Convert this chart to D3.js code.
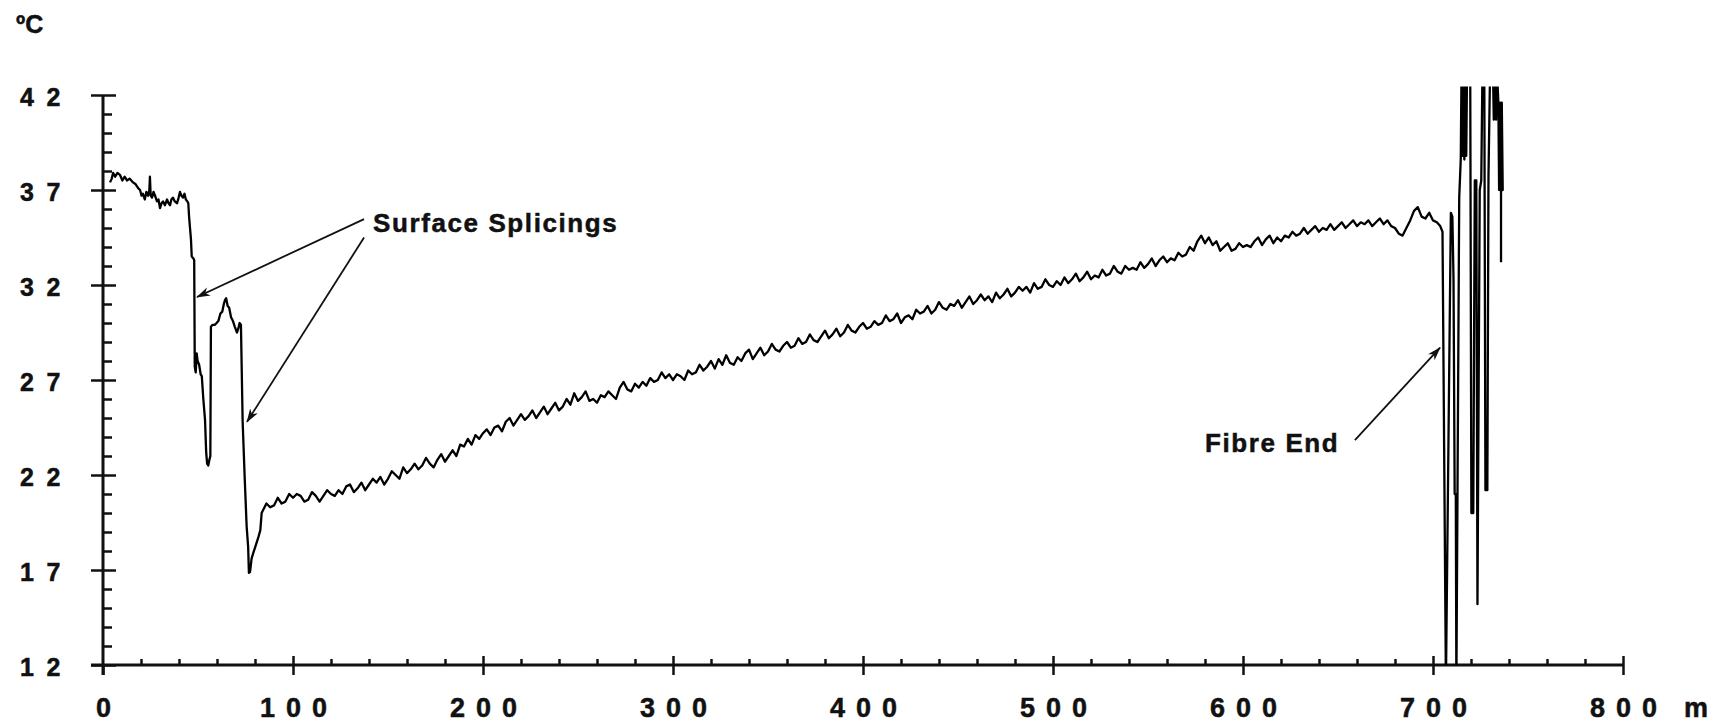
<!DOCTYPE html>
<html>
<head>
<meta charset="utf-8">
<script src="https://cdn.jsdelivr.net/npm/d3@7"></script>
<style>
body { margin: 0; background: #fff; }
text { font-family: "Liberation Sans", Arial, sans-serif; font-weight: bold; fill: #111; stroke: #111; stroke-width: 0.5px; }
</style>
</head>
<body>
<div id="chart"></div>
<script>
const yTicks = [12, 17, 22, 27, 32, 37, 42];
const xTicks = [0, 100, 200, 300, 400, 500, 600, 700, 800];

// first ~84 m: surface section and the two splices, [distance m, temperature ºC]
const spliceTrace = [
	[3.7, 37.4], [4.6, 37.6], [5.3, 37.9], [6.4, 37.7], [7.6, 37.9], [8.9, 37.8], [10.2, 37.5], [11.4, 37.7],
	[12.6, 37.5], [14.0, 37.6], [15.8, 37.4], [17.2, 37.3], [18.5, 37.1], [19.5, 37.0], [20.3, 36.7], [21.0, 36.8],
	[22.0, 36.5], [22.8, 36.9], [23.7, 36.7], [24.4, 37.0], [24.7, 37.7], [25.1, 36.7], [25.8, 36.6], [26.6, 36.9],
	[27.4, 36.7], [28.4, 36.4], [29.2, 36.5], [30.0, 36.05], [30.8, 36.3], [31.6, 36.4], [32.6, 36.2], [33.7, 36.5],
	[34.5, 36.3], [35.3, 36.2], [36.0, 36.5], [36.8, 36.6], [37.8, 36.4], [39.0, 36.3], [39.8, 36.6], [40.5, 36.9],
	[41.3, 36.7], [42.1, 36.6], [42.9, 36.8], [43.6, 36.5], [44.4, 36.4], [44.9, 36.3], [45.3, 35.6], [45.8, 35.0],
	[46.3, 34.4], [46.7, 33.5], [47.6, 33.4], [48.0, 33.3], [48.3, 27.7], [48.8, 27.4], [49.3, 28.4], [49.8, 28.0],
	[50.6, 27.8], [51.4, 27.3], [52.0, 27.2], [52.8, 26.0], [53.7, 24.9], [54.3, 23.2], [54.8, 22.6], [55.4, 22.5],
	[56.0, 22.8], [56.5, 23.0], [56.8, 29.8], [57.6, 29.9], [58.8, 29.9], [59.8, 30.0], [60.7, 30.1], [61.8, 30.5],
	[62.8, 30.6], [63.6, 31.0], [64.2, 31.2], [64.8, 31.3], [65.6, 30.9], [66.4, 30.8], [67.4, 30.3], [68.4, 30.1],
	[69.4, 29.8], [70.5, 29.5], [71.2, 29.7], [71.9, 30.0], [72.6, 29.9], [73.5, 24.8], [74.6, 21.8], [75.6, 19.3],
	[76.4, 18.2], [76.8, 16.85], [77.4, 16.9], [78.2, 17.6], [79.1, 17.9], [80.4, 18.3], [81.7, 18.7], [82.8, 19.1],
	[83.5, 20.0]
];

// buried section, one reading every 2 m from 84 m to 702 m
const traceStart = 84;
const traceStep = 2;
const traceTemps = [
	20.1, 20.5, 20.3, 20.4, 20.8, 20.5, 20.6, 21.0, 20.8, 21.0,
	20.9, 20.6, 20.7, 21.1, 20.9, 20.6, 20.9, 21.2, 21.0, 20.9,
	21.2, 21.0, 21.4, 21.5, 21.1, 21.3, 21.6, 21.2, 21.5, 21.8,
	21.6, 21.9, 21.5, 21.8, 22.2, 22.0, 21.8, 22.4, 22.1, 22.3,
	22.6, 22.3, 22.5, 22.9, 22.6, 22.4, 22.8, 23.1, 22.7, 23.0,
	23.3, 23.0, 23.6, 23.5, 23.9, 23.6, 24.1, 23.9, 24.2, 24.4,
	24.1, 24.5, 24.6, 24.3, 24.8, 25.0, 24.6, 24.9, 25.2, 24.9,
	25.1, 25.4, 25.0, 25.3, 25.6, 25.2, 25.5, 25.8, 25.4, 25.6,
	26.0, 25.7, 26.3, 25.9, 26.1, 26.4, 25.9, 26.0, 25.8, 26.2,
	26.1, 26.4, 26.2, 26.0, 26.6, 26.9, 26.5, 26.4, 26.8, 26.6,
	26.9, 26.7, 27.1, 26.9, 27.0, 27.4, 27.1, 27.3, 27.0, 27.3,
	27.2, 27.0, 27.5, 27.3, 27.4, 27.8, 27.5, 27.7, 28.0, 27.6,
	28.1, 27.8, 28.3, 27.9, 27.8, 28.2, 28.0, 28.4, 28.6, 28.1,
	28.4, 28.7, 28.3, 28.5, 28.9, 28.6, 28.5, 28.8, 29.0, 28.7,
	28.8, 29.2, 28.9, 29.0, 29.4, 29.1, 29.0, 29.3, 29.6, 29.2,
	29.4, 29.7, 29.3, 29.5, 29.9, 29.6, 29.5, 29.8, 30.0, 29.7,
	29.8, 30.1, 29.9, 30.0, 30.4, 30.1, 30.2, 30.5, 30.0, 30.3,
	30.4, 30.2, 30.7, 30.5, 30.6, 30.9, 30.5, 30.7, 31.1, 30.8,
	30.7, 31.0, 30.9, 31.2, 30.8, 31.1, 31.4, 31.0, 31.2, 31.5,
	31.2, 31.4, 31.1, 31.6, 31.3, 31.5, 31.8, 31.4, 31.6, 31.9,
	31.7, 31.9, 31.6, 32.1, 31.8, 31.9, 32.3, 32.0, 31.9, 32.2,
	32.0, 32.4, 32.1, 32.3, 32.6, 32.2, 32.4, 32.7, 32.3, 32.5,
	32.4, 32.8, 32.5, 32.6, 33.0, 32.7, 32.6, 33.0, 32.8, 32.9,
	32.8, 33.2, 32.9, 33.1, 33.4, 33.0, 33.3, 33.5, 33.2, 33.4,
	33.3, 33.7, 33.5, 33.6, 34.0, 33.8, 34.3, 34.6, 34.2, 34.5,
	34.1, 34.3, 33.8, 34.0, 34.2, 33.8, 33.9, 34.2, 34.0, 34.1,
	34.0, 34.3, 34.5, 34.1, 34.4, 34.6, 34.2, 34.5, 34.3, 34.6,
	34.5, 34.8, 34.6, 34.7, 35.0, 34.7, 34.9, 35.1, 34.8, 35.0,
	34.9, 35.2, 34.9, 35.1, 35.3, 35.0, 35.2, 35.4, 35.1, 35.3,
	35.2, 35.4, 35.1, 35.3, 35.5, 35.2, 35.4, 35.1, 35.0, 34.7,
	34.6, 35.0, 35.4, 35.9, 36.1, 35.6, 35.5, 35.8, 35.4, 35.3
];

// past the fibre end the reading swings off the scale both ways
const endTrace = [
	[703.8, 35.1], [705.0, 34.8], [706.8, 11],
	[709.4, 35.8], [710.2, 35.6], [710.8, 32.3], [711.4, 21.0], [712.0, 21.0], [712.3, 11],
	[713.8, 36.6], [714.6, 38.6], [715.0, 43], [715.5, 38.8], [716.0, 43], [716.5, 38.6], [717.0, 43], [717.5, 38.8], [717.9, 43],
	[719.6, 43], [720.2, 20.0], [721.2, 20.0], [722.0, 37.5], [722.8, 37.5], [723.4, 15.2],
	[724.6, 37.0], [725.4, 37.5], [726.0, 43], [727.0, 43], [727.6, 21.2], [728.6, 21.2], [729.2, 37.7], [730.0, 43],
	[731.6, 43], [732.0, 40.7], [732.6, 43], [733.2, 40.7], [733.8, 43],
	[734.4, 41.6], [734.8, 37.0], [735.3, 41.6], [735.8, 37.0], [736.2, 41.6], [736.7, 37.0], [735.8, 37.0], [735.8, 33.2]
];

const notes = [
	{ text: "Surface Splicings", x: 142.1, y: 34.8,
	  arrows: [[137.4, 35.47, 49.5, 31.37], [137.4, 34.5, 75.8, 24.8]] },
	{ text: "Fibre End", x: 580, y: 23.2,
	  arrows: [[658.9, 23.84, 703.7, 28.7]] }
];

const width = 1728, height = 726;

const svg = d3.select("#chart").append("svg")
	.attr("width", width)
	.attr("height", height);

const x = d3.scaleLinear().domain([0, 800]).range([103, 1623]);
const y = d3.scaleLinear().domain([12, 42]).range([665, 95]);

const ink = "#111";

// y axis
const yMinor = d3.range(12, 43).filter(v => !yTicks.includes(v));
svg.append("line")
	.attr("x1", x(0)).attr("x2", x(0))
	.attr("y1", y(42)).attr("y2", y(12) + 10)
	.attr("stroke", ink).attr("stroke-width", 3);

const yAxis = svg.append("g")
	.attr("transform", `translate(${x(0)},0)`)
	.call(d3.axisLeft(y).tickValues(yTicks).tickSize(12).tickSizeOuter(0).tickFormat(d3.format("d")));
yAxis.select(".domain").remove();
yAxis.selectAll("line").attr("stroke", ink).attr("stroke-width", 2.5);
yAxis.selectAll("text")
	.attr("x", -83)
	.attr("dy", "0.4em")
	.attr("text-anchor", "start")
	.style("font-size", "25px")
	.style("letter-spacing", "12.5px")
	.attr("fill", ink);

const yRight = svg.append("g")
	.attr("transform", `translate(${x(0)},0)`)
	.call(d3.axisRight(y).tickValues(yTicks).tickSize(13).tickFormat(""));
yRight.select(".domain").remove();
yRight.selectAll("line").attr("stroke", ink).attr("stroke-width", 2.5);

const yMinorAxis = svg.append("g")
	.attr("transform", `translate(${x(0)},0)`)
	.call(d3.axisRight(y).tickValues(yMinor).tickSize(9).tickFormat(""));
yMinorAxis.select(".domain").remove();
yMinorAxis.selectAll("line").attr("stroke", ink).attr("stroke-width", 2.5);

// x axis
const xMinor = d3.range(0, 801, 20).filter(v => !xTicks.includes(v));
svg.append("line")
	.attr("x1", x(0) - 12).attr("x2", x(800))
	.attr("y1", y(12)).attr("y2", y(12))
	.attr("stroke", ink).attr("stroke-width", 3);

const xAxis = svg.append("g")
	.attr("transform", `translate(0,${y(12)})`)
	.call(d3.axisBottom(x).tickValues(xTicks).tickSize(10).tickSizeOuter(0).tickFormat(d3.format("d")));
xAxis.select(".domain").remove();
xAxis.selectAll("line").attr("stroke", ink).attr("stroke-width", 2.5);
xAxis.selectAll("text")
	.attr("y", 52)
	.attr("dy", 0)
	.attr("dx", 5.5)
	.style("font-size", "27px")
	.style("letter-spacing", "11px")
	.attr("fill", ink);

const xTop = svg.append("g")
	.attr("transform", `translate(0,${y(12)})`)
	.call(d3.axisTop(x).tickValues(xTicks.filter(v => v > 0)).tickSize(9).tickFormat(""));
xTop.select(".domain").remove();
xTop.selectAll("line").attr("stroke", ink).attr("stroke-width", 2.5);

const xMinorAxis = svg.append("g")
	.attr("transform", `translate(0,${y(12)})`)
	.call(d3.axisTop(x).tickValues(xMinor).tickSize(6).tickFormat(""));
xMinorAxis.select(".domain").remove();
xMinorAxis.selectAll("line").attr("stroke", ink).attr("stroke-width", 2.5);

// unit labels
svg.append("text")
	.attr("x", 16).attr("y", 33)
	.style("font-size", "25px")
	.text("ºC");

svg.append("text")
	.attr("x", x(800) + 61).attr("y", y(12) + 52)
	.style("font-size", "27px")
	.text("m");

// trace
const trace = spliceTrace
	.concat(traceTemps.map((t, i) => [traceStart + i * traceStep, t]))
	.concat(endTrace);

svg.append("clipPath").attr("id", "plot")
	.append("rect")
	.attr("x", x(0)).attr("y", y(42.45))
	.attr("width", x(800) - x(0)).attr("height", y(12) - y(42.45));

svg.append("path")
	.datum(trace)
	.attr("clip-path", "url(#plot)")
	.attr("fill", "none")
	.attr("stroke", "#000")
	.attr("stroke-width", 2.3)
	.attr("stroke-linejoin", "round")
	.attr("d", d3.line().x(d => x(d[0])).y(d => y(d[1])));

// annotations
svg.append("defs").append("marker")
	.attr("id", "head")
	.attr("viewBox", "0 -5 14 10")
	.attr("refX", 13).attr("refY", 0)
	.attr("markerWidth", 14).attr("markerHeight", 10)
	.attr("markerUnits", "userSpaceOnUse")
	.attr("orient", "auto")
	.append("path")
	.attr("d", "M0,-4.5L14,0L0,4.5L4,0Z")
	.attr("fill", ink);

notes.forEach(n => {
	svg.append("text")
		.attr("x", x(n.x)).attr("y", y(n.y))
		.style("font-size", "26px")
		.style("letter-spacing", "1.6px")
		.text(n.text);
	n.arrows.forEach(a => {
		svg.append("line")
			.attr("x1", x(a[0])).attr("y1", y(a[1]))
			.attr("x2", x(a[2])).attr("y2", y(a[3]))
			.attr("stroke", ink)
			.attr("stroke-width", 1.8)
			.attr("marker-end", "url(#head)");
	});
});
</script>
</body>
</html>
